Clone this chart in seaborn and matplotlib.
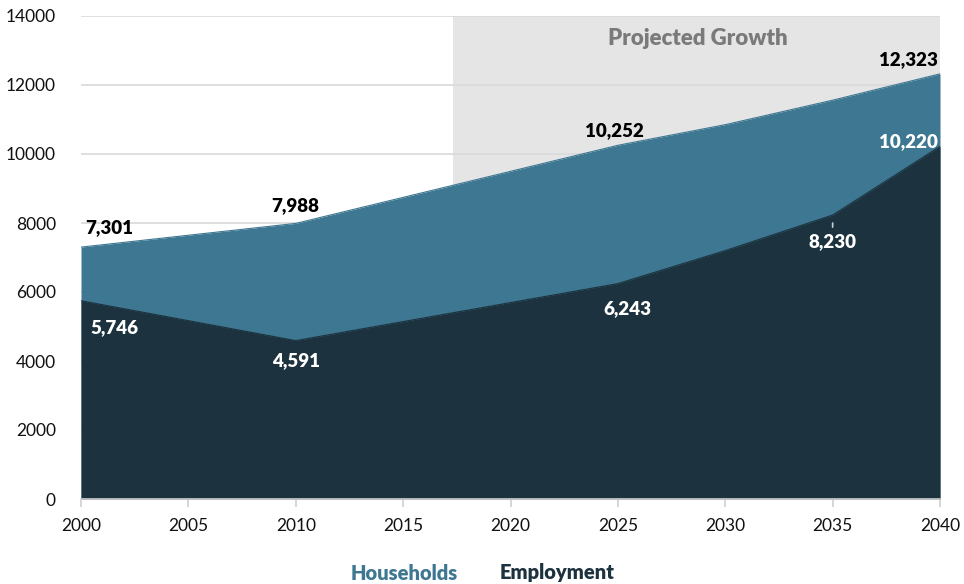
import matplotlib
matplotlib.use("Agg")
import matplotlib.pyplot as plt
import seaborn as sns
import pandas as pd

# Series values (5-year steps)
years = [2000, 2005, 2010, 2015, 2020, 2025, 2030, 2035, 2040]
households = [7301, 7645, 7988, 8743, 9497, 10252, 10850, 11560, 12323]
employment = [5746, 5169, 4591, 5142, 5693, 6243, 7200, 8230, 10220]

# Labelled points
hh_label_years = [2000, 2010, 2025, 2040]
emp_label_years = [2000, 2010, 2025, 2035, 2040]

projection_start = 2017.3
y_ticks = [0, 2000, 4000, 6000, 8000, 10000, 12000, 14000]
x_ticks = [2000, 2005, 2010, 2015, 2020, 2025, 2030, 2035, 2040]

HH_COLOR = "#3d7791"
EMP_COLOR = "#1c323e"
SHADE = "#e5e5e5"
PX = 72 / 100  # points per pixel at 100 dpi

sns.set_theme(style="white")
plt.rcParams["font.family"] = ["Lato", "DejaVu Sans"]

df = pd.DataFrame({"year": years, "Households": households, "Employment": employment})

fig = plt.figure(figsize=(9.64, 5.84), dpi=100)
ax = fig.add_axes([81 / 964, 1 - 499 / 584, (940 - 81) / 964, (499 - 16) / 584])

ax.axvspan(projection_start, 2040, ymin=0, ymax=1, color=SHADE, zorder=0, lw=0)
for yt in y_ticks[1:]:
    ax.axhline(yt, color="#d9d9d9", lw=1.2, zorder=0.5)

ax.fill_between(df["year"], 0, df["Households"], color=HH_COLOR, lw=0, zorder=2)
ax.fill_between(df["year"], 0, df["Employment"], color=EMP_COLOR, lw=0, zorder=3)
sns.lineplot(data=df, x="year", y="Households", ax=ax, color=HH_COLOR, lw=0.8, zorder=2.5)
sns.lineplot(data=df, x="year", y="Employment", ax=ax, color=EMP_COLOR, lw=0.8, zorder=3.5)

ax.set_xlim(2000, 2040)
ax.set_ylim(0, 14000)
ax.set_xticks(x_ticks)
ax.set_yticks(y_ticks)
ax.set_xlabel("")
ax.set_ylabel("")
for s in ["top", "right", "left"]:
    ax.spines[s].set_visible(False)
ax.spines["bottom"].set_color("#d0d0d0")
ax.spines["bottom"].set_linewidth(1.2)
ax.spines["bottom"].set_zorder(5)
ax.tick_params(axis="x", length=6, width=1.2, color="#d0d0d0", direction="out",
               labelsize=12.5, labelcolor="#111111", pad=8, bottom=True)
ax.tick_params(axis="y", length=0, labelsize=12.5, labelcolor="#111111", pad=18)

hh = dict(zip(years, households))
emp = dict(zip(years, employment))

# Households labels above the top edge: (dx px, dy px, alignment)
hh_offsets = {2000: (4, 20, "left"), 2010: (0, 18, "center"),
              2025: (-3, 15, "center"), 2040: (-2, 14, "right")}
for yr in hh_label_years:
    dx, dy, ha = hh_offsets[yr]
    ax.annotate(f"{hh[yr]:,}", (yr, hh[yr]), xytext=(dx * PX, dy * PX), textcoords="offset points",
                ha=ha, va="center", fontsize=13.5, fontweight="heavy", color="#000000", zorder=6)

# Employment labels inside the dark area
emp_offsets = {2000: (9, -27, "left"), 2010: (0, -20, "center"), 2025: (9, -25, "center"),
               2035: (0, -27, "center"), 2040: (-2, 5, "right")}
for yr in emp_label_years:
    dx, dy, ha = emp_offsets[yr]
    ax.annotate(f"{emp[yr]:,}", (yr, emp[yr]), xytext=(dx * PX, dy * PX), textcoords="offset points",
                ha=ha, va="center", fontsize=13.5, fontweight="heavy", color="#ffffff", zorder=6)

# leader line for the 2035 label
ax.annotate("", (2035, emp[2035] - 150), xytext=(2035, emp[2035] - 430),
            arrowprops=dict(arrowstyle="-", color="#cfcfcf", lw=1.2), zorder=6)

ax.text((projection_start + 2040) / 2 + 0.05, 13350, "Projected Growth", ha="center", va="center",
        fontsize=16, fontweight="heavy", color="#7a7a7a", zorder=6)

fig.text(404 / 964, 1 - 573 / 584, "Households", ha="center", va="center",
         fontsize=14.5, fontweight="heavy", color=HH_COLOR)
fig.text(557 / 964, 1 - 573 / 584, "Employment", ha="center", va="center",
         fontsize=14.5, fontweight="heavy", color=EMP_COLOR)

fig.savefig("out.png", dpi=100)
